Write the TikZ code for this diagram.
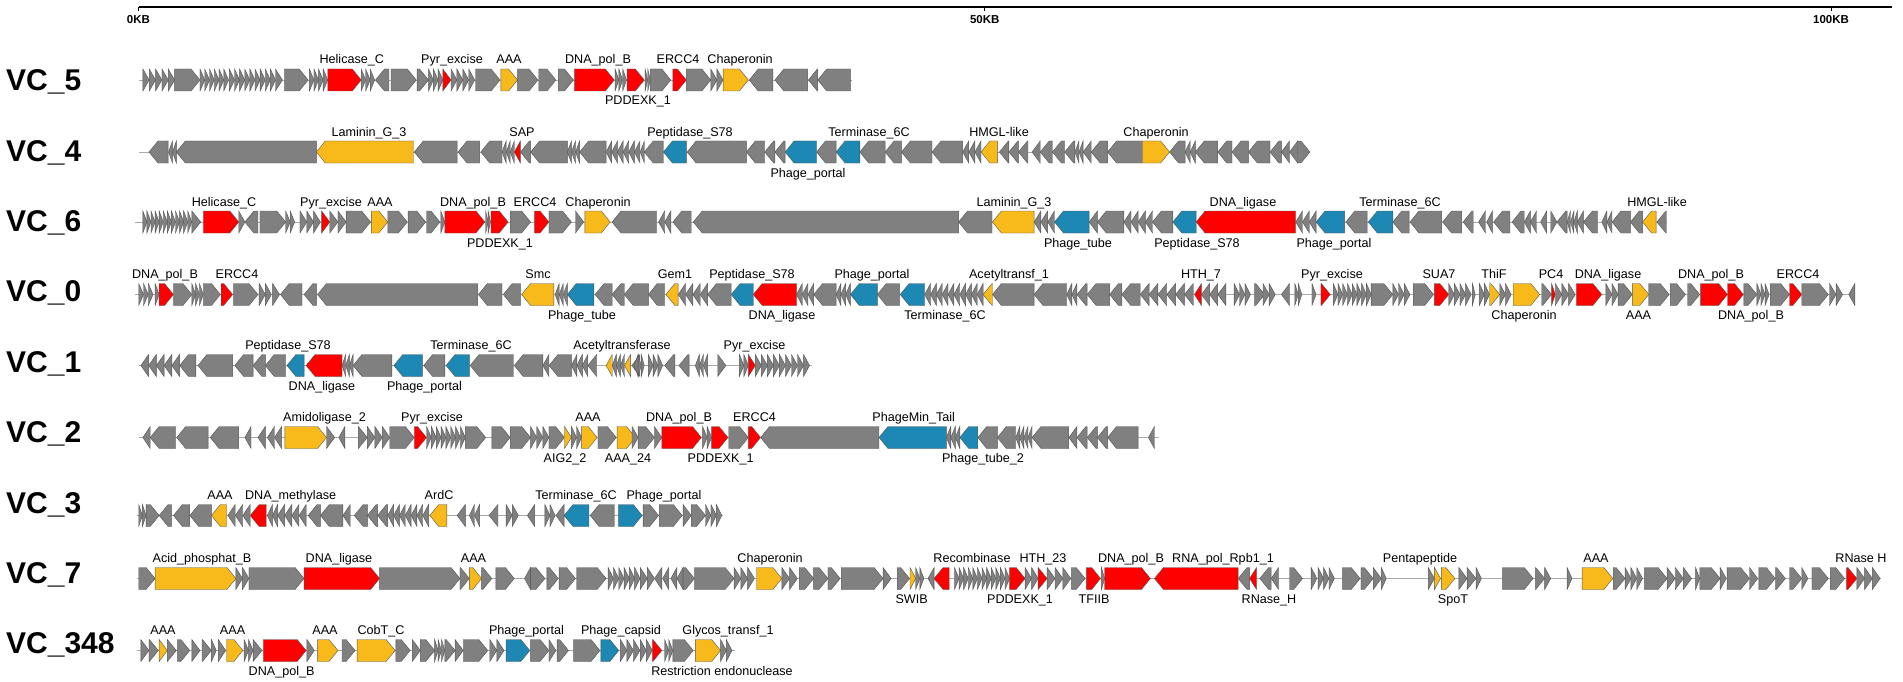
\documentclass[tikz,border=0pt]{standalone}
\usepackage{fontspec}
\setmainfont{Liberation Sans}
\definecolor{cGray}{HTML}{808080}
\definecolor{cRed}{HTML}{FF0000}
\definecolor{cYel}{HTML}{F8B91A}
\definecolor{cBlue}{HTML}{1C88B3}
\definecolor{cEdge}{HTML}{555555}
\definecolor{cBack}{HTML}{AAAAAA}
\tikzset{
 gene/.style={draw=cEdge, line width=0.4pt, line join=miter},
 backbone/.style={draw=cBack, line width=0.9pt},
 glab/.style={font=\fontsize{12.6}{14}\selectfont, inner sep=0pt, anchor=base},
 rowlab/.style={font=\fontsize{30}{34}\selectfont\bfseries, inner sep=0pt, anchor=base west},
 axlab/.style={font=\fontsize{11.5}{13}\selectfont\bfseries, inner sep=0pt, anchor=base},
 axline/.style={draw=black, line width=1.3pt},
 axtick/.style={draw=black, line width=1pt},
}
\newcounter{labn}
\newcommand\arrR[3]{%
 \pgfmathsetmacro\ga{#1}\pgfmathsetmacro\gb{#2}\pgfmathsetmacro\gh{min(22,\gb-\ga)}%
 \filldraw[gene,fill=#3] (\ga,-11) -- ({\gb-\gh},-11) -- (\gb,0) -- ({\gb-\gh},11) -- (\ga,11) -- cycle;}
\newcommand\arrL[3]{%
 \pgfmathsetmacro\ga{#1}\pgfmathsetmacro\gb{#2}\pgfmathsetmacro\gh{min(22,\gb-\ga)}%
 \filldraw[gene,fill=#3] (\gb,-11) -- ({\ga+\gh},-11) -- (\ga,0) -- ({\ga+\gh},11) -- (\gb,11) -- cycle;}
\newcommand\gR[2]{\arrR{#1}{#2}{cGray}}
\newcommand\gL[2]{\arrL{#1}{#2}{cGray}}
\newcommand\nR[3]{\pgfmathsetmacro\gw{((#2)-(#1))/(#3)}\foreach \gi in {1,...,#3}{\arrR{(#1)+(\gi-1)*\gw}{(#1)+\gi*\gw}{cGray}}}
\newcommand\nL[3]{\pgfmathsetmacro\gw{((#2)-(#1))/(#3)}\foreach \gi in {1,...,#3}{\arrL{(#1)+(\gi-1)*\gw}{(#1)+\gi*\gw}{cGray}}}
\newcommand\labA[3]{\stepcounter{labn}\node[glab] (t\thelabn) at (#1,{#2-16}) {#3};}
\newcommand\labB[3]{\stepcounter{labn}\node[glab] (t\thelabn) at (#1,{#2+25}) {#3};}
\begin{document}
\begin{tikzpicture}[x=1pt,y=-1pt]
\useasboundingbox (0,0) rectangle (1903,682);
% axis
\draw[axline] (138.5,7) -- (1892,7);
\draw[axtick] (138.5,7) -- (138.5,11);
\draw[axtick] (984.7,7) -- (984.7,11);
\draw[axtick] (1831,7) -- (1831,11);
\node[axlab] (ax0) at (138.5,23.5) {0KB};
\node[axlab] (ax50) at (984.7,23.5) {50KB};
\node[axlab] (ax100) at (1831,23.5) {100KB};
% row labels
\node[rowlab] (r5) at (6,90.7) {VC\_5};
\node[rowlab] (r4) at (6,161.1) {VC\_4};
\node[rowlab] (r6) at (6,231.5) {VC\_6};
\node[rowlab] (r0) at (6,301.9) {VC\_0};
\node[rowlab] (r1) at (6,372.3) {VC\_1};
\node[rowlab] (r2) at (6,442.7) {VC\_2};
\node[rowlab] (r3) at (6,513.1) {VC\_3};
\node[rowlab] (r7) at (6,583.5) {VC\_7};
\node[rowlab] (r348) at (6,653.9) {VC\_348};
% backbones
\draw[backbone] (138.8,80) -- (852,80);
\draw[backbone] (138.8,152) -- (1310,152);
\draw[backbone] (134.7,222) -- (1667,222);
\draw[backbone] (134.7,294.5) -- (1855,294.5);
\draw[backbone] (139,365.5) -- (811.6,365.5);
\draw[backbone] (139,437.5) -- (1158.6,437.5);
\draw[backbone] (136.7,515.5) -- (723,515.5);
\draw[backbone] (136.7,578.5) -- (1881,578.5);
\draw[backbone] (136.7,650.5) -- (735,650.5);

%%%%% VC_5
\begin{scope}[xshift=0pt,yshift=-80pt,x=0.408163pt]
\nR{350}{428}{5}\gR{428}{490}\nR{490}{560}{6}\nR{562}{675}{9}\gR{675}{692}\gR{697}{755}
\nR{758}{803}{4}\arrR{803}{885}{cRed}\nR{885}{918}{3}\gL{920}{953}\gR{958}{1020}\gR{1022}{1050}
\nR{1050}{1085}{3}\arrR{1085}{1105}{cRed}\nR{1105}{1163}{4}\gR{1165}{1225}\arrR{1227}{1268}{cYel}
\gR{1268}{1318}\gR{1320}{1362}\gR{1368}{1405}\arrR{1408}{1505}{cRed}\nR{1507}{1535}{3}
\end{scope}
\begin{scope}[xshift=630pt,yshift=-80pt,x=0.408163pt]
\arrR{-7}{35}{cRed}\nR{37}{50}{2}\gR{50}{100}\arrR{105}{138}{cRed}\gR{138}{198}\nR{198}{228}{2}
\arrR{228}{290}{cYel}\gL{292}{350}\gL{355}{435}\gL{437}{460}\gL{460}{540}
\end{scope}
\labA{351.8}{80}{Helicase\_C}\labA{452}{80}{Pyr\_excise}\labA{509}{80}{AAA}\labA{598}{80}{DNA\_pol\_B}
\labB{638}{80}{PDDEXK\_1}\labA{678}{80}{ERCC4}\labA{740}{80}{Chaperonin}

%%%%% VC_4
\begin{scope}[xshift=0pt,yshift=-152pt,x=0.408163pt]
\gL{365}{412}\nL{413}{432}{2}\gL{432}{775}\arrL{775}{1013}{cYel}\gL{1015}{1120}\gL{1122}{1175}
\gL{1178}{1230}\nL{1230}{1260}{3}\arrL{1260}{1275}{cRed}\gL{1275}{1300}\gL{1300}{1390}
\nL{1390}{1420}{3}\gL{1420}{1485}\nL{1485}{1568}{6}
\end{scope}
\begin{scope}[xshift=630pt,yshift=-152pt,x=0.408163pt]
\gL{25}{35}\gL{35}{82}\arrL{82}{138}{cBlue}\gL{140}{285}\gL{285}{330}\gL{330}{355}\gL{355}{380}
\arrL{380}{457}{cBlue}\gL{457}{505}\arrL{505}{563}{cBlue}\gL{563}{625}\gL{625}{665}\gL{665}{740}
\gL{740}{815}\nL{815}{860}{3}\arrL{860}{900}{cYel}\nL{905}{975}{3}\gL{985}{1005}\gL{1005}{1035}
\gL{1035}{1065}\gL{1065}{1090}\nL{1090}{1110}{2}\gL{1110}{1130}\gL{1130}{1170}\gL{1170}{1255}
\arrR{1255}{1322}{cYel}\gL{1322}{1360}\nL{1360}{1385}{2}\gL{1385}{1440}\gL{1440}{1475}
\gL{1475}{1515}\gL{1515}{1568}
\end{scope}
\begin{scope}[xshift=1263pt,yshift=-152pt,x=0.408163pt]
\gL{17}{45}\gL{45}{65}\gL{65}{85}\gR{85}{115}
\end{scope}
\labA{369}{152}{Laminin\_G\_3}\labA{522}{152}{SAP}\labA{690}{152}{Peptidase\_S78}
\labB{808}{152}{Phage\_portal}\labA{869}{152}{Terminase\_6C}\labA{999}{152}{HMGL-like}
\labA{1156}{152}{Chaperonin}

%%%%% VC_6
\begin{scope}[xshift=0pt,yshift=-222pt,x=0.408163pt]
\nR{350}{470}{12}\gR{470}{492}\arrR{498}{585}{cRed}\gR{585}{600}\gL{600}{632}\gR{637}{700}
\nR{700}{722}{2}\nR{735}{785}{3}\arrR{788}{808}{cRed}\nR{808}{848}{2}\gR{848}{908}
\arrR{910}{950}{cYel}\gR{950}{998}\gR{1000}{1043}\gR{1045}{1078}\gR{1080}{1090}
\arrR{1090}{1188}{cRed}\nR{1190}{1202}{2}\arrR{1203}{1245}{cRed}\gR{1250}{1300}
\arrR{1310}{1345}{cRed}\gR{1345}{1400}\gR{1410}{1430}\arrR{1433}{1495}{cYel}
\end{scope}
\begin{scope}[xshift=630pt,yshift=-222pt,x=0.408163pt]
\gL{-44}{65}\nL{70}{100}{2}\gL{105}{150}\gL{155}{805}\gL{805}{887}\arrL{888}{990}{cYel}
\nL{990}{1040}{3}\arrL{1040}{1125}{cBlue}\gL{1125}{1145}\gL{1145}{1210}\nL{1210}{1280}{4}
\gL{1280}{1330}\arrL{1330}{1387}{cBlue}\arrL{1387}{1631}{cRed}
\end{scope}
\begin{scope}[xshift=1263pt,yshift=-222pt,x=0.408163pt]
\nL{80}{130}{3}\arrL{130}{200}{cBlue}\gL{203}{255}\arrL{258}{318}{cBlue}\gL{318}{358}
\gL{360}{438}\gL{440}{487}\gL{490}{515}\gL{528}{545}\gL{548}{562}\gL{565}{605}\gL{610}{640}
\nL{640}{670}{2}\gL{680}{695}\gR{705}{720}\gL{720}{745}\nL{745}{770}{3}\gL{770}{785}
\gL{785}{820}\nL{830}{855}{2}\gL{855}{900}\gL{900}{930}\arrL{930}{963}{cYel}\gL{965}{988}
\end{scope}
\labA{224}{222}{Helicase\_C}\labA{331}{222}{Pyr\_excise}\labA{380}{222}{AAA}
\labA{473}{222}{DNA\_pol\_B}\labB{500}{222}{PDDEXK\_1}\labA{535}{222}{ERCC4}
\labA{598}{222}{Chaperonin}\labA{1014}{222}{Laminin\_G\_3}\labB{1078}{222}{Phage\_tube}
\labA{1243}{222}{DNA\_ligase}\labB{1197}{222}{Peptidase\_S78}\labB{1334}{222}{Phage\_portal}
\labA{1400}{222}{Terminase\_6C}\labA{1657}{222}{HMGL-like}

%%%%% VC_0
\begin{scope}[xshift=0pt,yshift=-294.5pt,x=0.408163pt]
\nR{340}{375}{3}\gR{380}{390}\arrR{390}{425}{cRed}\gR{425}{470}\nR{470}{498}{3}\gR{498}{540}
\arrR{542}{570}{cRed}\gR{572}{632}\nR{635}{665}{2}\gR{668}{685}\gL{687}{740}\gL{745}{775}
\gL{778}{1170}\gL{1172}{1230}\gL{1233}{1275}\arrL{1278}{1357}{cYel}\nL{1360}{1390}{3}
\arrL{1390}{1455}{cBlue}\gL{1458}{1500}
\end{scope}
\begin{scope}[xshift=630pt,yshift=-294.5pt,x=0.408163pt]
\gL{-44}{-14}\gL{-14}{45}\gL{45}{85}\arrL{88}{118}{cYel}\nL{118}{190}{4}\gL{190}{248}
\arrL{248}{302}{cBlue}\arrL{302}{408}{cRed}\nL{408}{450}{3}\gL{450}{505}\nL{505}{540}{3}
\arrL{540}{606}{cBlue}\gL{606}{660}\arrL{662}{722}{cBlue}\nL{722}{865}{10}\arrL{865}{888}{cYel}
\gL{888}{990}\gL{990}{1070}\nL{1070}{1095}{2}\gL{1095}{1120}\gL{1120}{1175}\gL{1175}{1205}
\gL{1205}{1250}\nL{1250}{1380}{6}\arrL{1383}{1400}{cRed}\nL{1400}{1460}{3}\nR{1480}{1520}{3}
\gR{1530}{1555}
\end{scope}
\begin{scope}[xshift=1263pt,yshift=-294.5pt,x=0.408163pt]
\nR{0}{30}{2}\gL{45}{65}\nR{78}{95}{2}\gR{120}{130}\arrR{142}{165}{cRed}\nR{172}{265}{8}
\gR{265}{318}\nR{318}{360}{3}\gR{368}{418}\arrR{420}{455}{cRed}\nR{455}{510}{4}\gR{513}{520}
\nR{530}{555}{2}\arrR{555}{580}{cYel}\nR{580}{608}{2}\arrR{613}{678}{cYel}\gR{683}{707}
\arrR{707}{716}{cRed}\nR{716}{765}{3}\arrR{768}{830}{cRed}\nR{840}{870}{2}\gR{870}{905}
\arrR{905}{945}{cYel}\gR{945}{995}\gR{998}{1035}\gR{1040}{1070}\arrR{1072}{1138}{cRed}
\arrR{1138}{1177}{cRed}\gR{1178}{1210}\nR{1210}{1240}{3}\gR{1243}{1290}\arrR{1290}{1320}{cRed}
\gR{1320}{1385}\nR{1388}{1420}{2}\gL{1435}{1450}
\end{scope}
\labA{165}{294.5}{DNA\_pol\_B}\labA{237}{294.5}{ERCC4}\labA{538}{294.5}{Smc}
\labB{582}{294.5}{Phage\_tube}\labA{675}{294.5}{Gem1}\labA{752}{294.5}{Peptidase\_S78}
\labB{782}{294.5}{DNA\_ligase}\labA{872}{294.5}{Phage\_portal}\labB{945}{294.5}{Terminase\_6C}
\labA{1009}{294.5}{Acetyltransf\_1}\labA{1201}{294.5}{HTH\_7}\labA{1332}{294.5}{Pyr\_excise}
\labA{1439}{294.5}{SUA7}\labA{1494}{294.5}{ThiF}\labB{1524}{294.5}{Chaperonin}
\labA{1551}{294.5}{PC4}\labA{1608}{294.5}{DNA\_ligase}\labB{1638.5}{294.5}{AAA}
\labA{1711}{294.5}{DNA\_pol\_B}\labB{1751}{294.5}{DNA\_pol\_B}\labA{1798}{294.5}{ERCC4}

%%%%% VC_1
\begin{scope}[xshift=0pt,yshift=-365.5pt,x=0.408163pt]
\nL{345}{440}{5}\gL{440}{480}\gL{485}{570}\gL{575}{620}\gL{620}{650}\gL{650}{700}
\arrL{703}{745}{cBlue}\arrL{750}{838}{cRed}\nL{838}{865}{3}\gL{865}{960}\arrL{965}{1035}{cBlue}
\gL{1038}{1090}\arrL{1093}{1150}{cBlue}\gL{1152}{1258}\gL{1260}{1330}\gL{1330}{1345}
\gL{1345}{1400}\nL{1400}{1440}{3}\gL{1440}{1462}\arrL{1485}{1500}{cYel}\nL{1500}{1530}{3}
\arrL{1530}{1545}{cYel}\gL{1548}{1568}
\end{scope}
\begin{scope}[xshift=630pt,yshift=-365.5pt,x=0.408163pt]
\gL{10}{20}\nR{20}{35}{2}\nR{45}{80}{3}\gL{85}{110}\gL{120}{145}\nL{160}{190}{3}\gR{215}{235}
\nR{268}{290}{2}\arrR{290}{307}{cRed}\nR{307}{440}{9}
\end{scope}
\labA{288}{365.5}{Peptidase\_S78}\labB{322}{365.5}{DNA\_ligase}\labB{424.5}{365.5}{Phage\_portal}
\labA{471}{365.5}{Terminase\_6C}\labA{622}{365.5}{Acetyltransferase}\labA{754.5}{365.5}{Pyr\_excise}

%%%%% VC_2
\begin{scope}[xshift=0pt,yshift=-437.5pt,x=0.408163pt]
\gL{350}{368}\gL{368}{430}\gL{433}{510}\gL{515}{585}\gL{600}{615}\gL{632}{650}\nL{655}{690}{2}
\arrR{698}{800}{cYel}\gR{800}{820}\gL{830}{845}\gR{878}{900}\nR{900}{955}{3}\gR{955}{1015}
\arrR{1015}{1045}{cRed}\nR{1045}{1140}{8}\gR{1140}{1190}\gR{1205}{1250}\gR{1250}{1300}
\nR{1300}{1345}{3}\gR{1345}{1383}\arrR{1383}{1400}{cYel}\nR{1400}{1425}{2}\arrR{1425}{1463}{cYel}
\gR{1465}{1510}\arrR{1512}{1557}{cYel}
\end{scope}
\begin{scope}[xshift=630pt,yshift=-437.5pt,x=0.408163pt]
\gR{5}{20}\gR{20}{60}\gR{60}{78}\arrR{78}{175}{cRed}\nR{178}{200}{2}\arrR{200}{240}{cRed}
\gR{242}{290}\arrR{290}{320}{cRed}\gL{320}{610}\arrL{610}{775}{cBlue}\nL{775}{808}{3}
\arrL{808}{852}{cBlue}\gL{852}{900}\gL{900}{945}\nL{945}{985}{4}\gL{985}{1075}\gL{1075}{1095}
\gL{1095}{1120}\gL{1120}{1145}\gL{1145}{1170}\gL{1170}{1245}\gL{1270}{1285}
\end{scope}
\labA{324.5}{437.5}{Amidoligase\_2}\labA{432}{437.5}{Pyr\_excise}\labB{565}{437.5}{AIG2\_2}
\labA{588}{437.5}{AAA}\labB{628}{437.5}{AAA\_24}\labA{679}{437.5}{DNA\_pol\_B}
\labB{720.6}{437.5}{PDDEXK\_1}\labA{754.5}{437.5}{ERCC4}\labA{913.7}{437.5}{PhageMin\_Tail}
\labB{983}{437.5}{Phage\_tube\_2}

%%%%% VC_3
\begin{scope}[xshift=0pt,yshift=-515.5pt,x=0.408163pt]
\nR{340}{358}{2}\gR{358}{390}\gL{390}{420}\gL{425}{465}\gL{465}{518}\arrL{518}{555}{cYel}
\nL{558}{613}{3}\arrL{613}{652}{cRed}\nL{655}{680}{2}\nL{680}{715}{2}\nL{715}{750}{2}
\gL{755}{785}\gL{785}{840}\gL{840}{858}\gL{868}{900}\gL{900}{925}\gL{925}{950}\nL{950}{1050}{7}
\arrL{1053}{1095}{cYel}\gL{1120}{1140}\nL{1150}{1175}{2}\gL{1198}{1220}\nR{1240}{1270}{2}
\gL{1292}{1310}\nR{1335}{1360}{2}\gL{1362}{1382}\arrL{1382}{1443}{cBlue}\gL{1446}{1505}
\end{scope}
\begin{scope}[xshift=630pt,yshift=-515.5pt,x=0.408163pt]
\arrR{-28}{30}{cBlue}\gR{32}{70}\gR{72}{128}\gR{130}{150}\gR{150}{185}\nR{185}{225}{3}
\end{scope}
\labA{220}{515.5}{AAA}\labA{290.6}{515.5}{DNA\_methylase}\labA{439}{515.5}{ArdC}
\labA{576}{515.5}{Terminase\_6C}\labA{664}{515.5}{Phage\_portal}

%%%%% VC_7
\begin{scope}[xshift=0pt,yshift=-578.5pt,x=0.408163pt]
\gR{340}{380}\arrR{380}{578}{cYel}\nR{578}{610}{2}\gR{610}{745}\arrR{745}{930}{cRed}
\gR{930}{1127}\gR{1127}{1150}\arrR{1150}{1180}{cYel}\gR{1180}{1205}\gR{1215}{1260}
\gL{1285}{1300}\gR{1300}{1335}\gR{1340}{1368}\gR{1370}{1410}\gR{1413}{1485}\nR{1490}{1568}{6}
\end{scope}
\begin{scope}[xshift=630pt,yshift=-578.5pt,x=0.408163pt]
\nR{25}{60}{2}\gL{60}{78}\gL{80}{95}\gL{100}{115}\gL{115}{130}\gR{130}{158}\gR{158}{255}
\nR{255}{305}{3}\arrR{310}{372}{cYel}\nR{372}{410}{2}\gR{415}{450}\gR{450}{485}\gR{485}{515}
\gR{518}{620}\gR{620}{640}\gR{655}{685}\arrR{686}{700}{cYel}\nR{700}{720}{2}\gL{730}{745}
\arrL{745}{782}{cRed}\nR{795}{930}{12}\arrR{930}{968}{cRed}\nR{968}{1000}{2}\arrR{1000}{1022}{cRed}
\nR{1022}{1080}{3}\gR{1082}{1115}\arrR{1118}{1153}{cRed}\gR{1155}{1163}\arrR{1163}{1275}{cRed}
\arrL{1285}{1490}{cRed}\gL{1490}{1518}\arrL{1518}{1535}{cRed}
\end{scope}
\begin{scope}[xshift=1263pt,yshift=-578.5pt,x=0.408163pt]
\gL{-8}{20}\gL{20}{38}\gR{65}{97}\gR{118}{132}\nR{135}{175}{3}\gR{195}{238}\gR{240}{270}
\gR{270}{290}\gR{290}{302}\gR{405}{420}\arrR{420}{435}{cYel}\arrR{437}{470}{cYel}\gR{480}{500}
\gR{500}{522}\gR{522}{535}\gR{587}{662}\gR{668}{690}\gR{690}{705}\gR{745}{757}
\arrR{782}{857}{cYel}\gR{858}{887}\nR{887}{930}{3}\gR{935}{990}\gR{990}{1010}\gR{1010}{1030}
\gR{1030}{1050}\gR{1060}{1070}\gR{1070}{1120}\gR{1120}{1135}\gR{1137}{1192}\gR{1192}{1212}
\gR{1215}{1255}\gR{1255}{1280}\gR{1290}{1320}\gR{1320}{1335}\gR{1345}{1385}\gR{1390}{1425}
\arrR{1430}{1455}{cRed}\nR{1455}{1512}{3}
\end{scope}
\labA{202}{578.5}{Acid\_phosphat\_B}\labA{339}{578.5}{DNA\_ligase}\labA{473.5}{578.5}{AAA}
\labA{770}{578.5}{Chaperonin}\labB{911.6}{578.5}{SWIB}\labA{972}{578.5}{Recombinase}
\labB{1020}{578.5}{PDDEXK\_1}\labA{1043}{578.5}{HTH\_23}\labB{1094}{578.5}{TFIIB}
\labA{1131}{578.5}{DNA\_pol\_B}\labA{1223}{578.5}{RNA\_pol\_Rpb1\_1}\labB{1269}{578.5}{RNase\_H}
\labA{1420}{578.5}{Pentapeptide}\labB{1453}{578.5}{SpoT}\labA{1596}{578.5}{AAA}
\labA{1861}{578.5}{RNase H}

%%%%% VC_348
\begin{scope}[xshift=0pt,yshift=-650.5pt,x=0.408163pt]
\gR{345}{365}\gR{365}{388}\arrR{390}{410}{cYel}\gR{410}{432}\gR{435}{465}\gR{470}{490}
\gR{495}{518}\gR{518}{530}\gR{535}{553}\arrR{555}{595}{cYel}\nR{598}{620}{2}\gR{620}{642}
\arrR{645}{750}{cRed}\gR{752}{770}\arrR{778}{828}{cYel}\gR{838}{870}\arrR{875}{968}{cYel}
\gR{970}{1005}\gR{1010}{1030}\gR{1030}{1065}\nR{1065}{1090}{3}\gR{1090}{1115}\gR{1115}{1135}
\gR{1135}{1195}\nR{1200}{1235}{2}\arrR{1240}{1298}{cBlue}\gR{1300}{1345}\gR{1345}{1362}
\gR{1365}{1393}\gR{1405}{1470}\arrR{1472}{1516}{cBlue}\nR{1520}{1568}{3}
\end{scope}
\begin{scope}[xshift=630pt,yshift=-650.5pt,x=0.408163pt]
\nR{25}{55}{2}\arrR{55}{78}{cRed}\nR{85}{105}{2}\gR{105}{155}\arrR{160}{222}{cYel}\nR{222}{250}{2}
\end{scope}
\labA{163}{650.5}{AAA}\labA{232.6}{650.5}{AAA}\labB{281.6}{650.5}{DNA\_pol\_B}
\labA{325}{650.5}{AAA}\labA{381}{650.5}{CobT\_C}\labA{526.5}{650.5}{Phage\_portal}
\labA{621}{650.5}{Phage\_capsid}\labB{722}{650.5}{Restriction endonuclease}
\labA{728}{650.5}{Glycos\_transf\_1}
\end{tikzpicture}
\end{document}
